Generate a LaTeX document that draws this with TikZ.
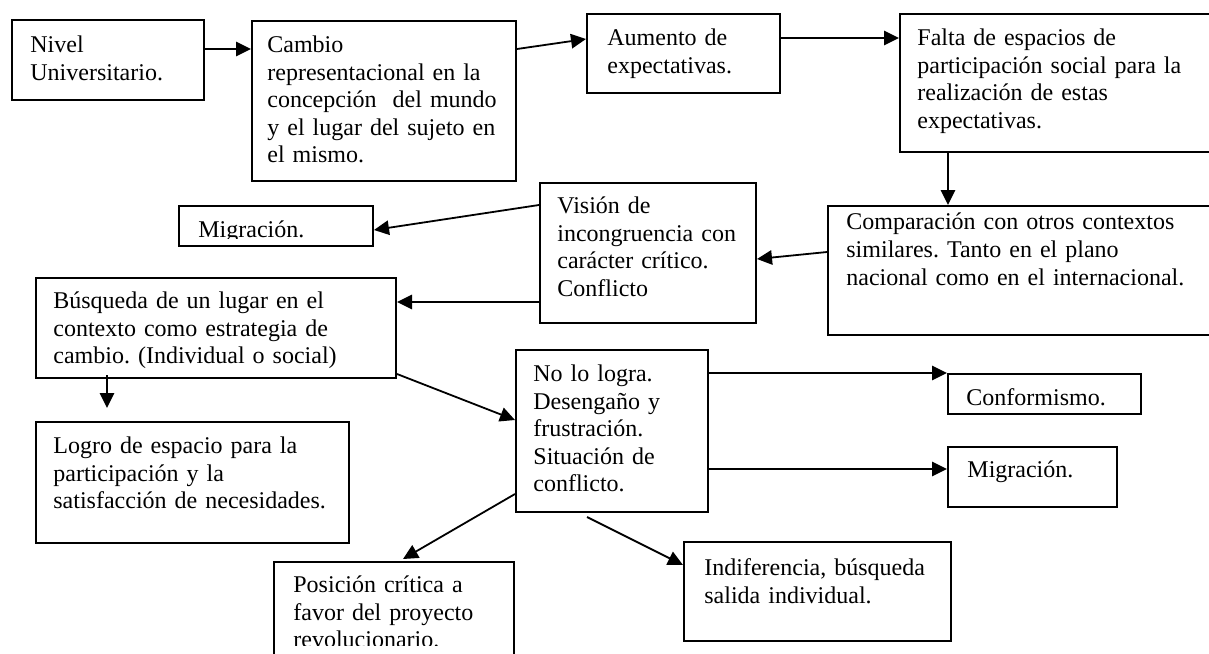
\documentclass[tikz,border=0pt]{standalone}
\usepackage{fontspec}
\setmainfont{Liberation Serif}
\usetikzlibrary{arrows.meta}
\frenchspacing
\tikzset{
  bx/.style={draw, line width=1pt, inner sep=0pt, anchor=north west},
  tx/.style={anchor=north west, inner sep=0pt, align=left, text width=250pt,
    font=\fontsize{12}{13.8}\selectfont\frenchspacing},
  arr/.style={-{Triangle[length=7.5pt,width=7.2pt]}, line width=0.9pt},
}
\begin{document}
\begin{tikzpicture}[x=0.5pt,y=-0.5pt]
\useasboundingbox (0,0) rectangle (1209,653);
\clip (0,0) rectangle (1209,653);
% boxes
\node[bx, minimum width=96pt,  minimum height=40pt]   (b1)  at (11,19)   {};
\node[bx, minimum width=132pt, minimum height=80pt]   (b2)  at (251,20)  {};
\node[bx, minimum width=96.5pt,minimum height=39.5pt] (b3)  at (586,13)  {};
\node[bx, minimum width=160pt, minimum height=69pt]   (b4)  at (899,13)  {};
\node[bx, minimum width=196pt, minimum height=64.5pt] (b5)  at (827,205) {};
\node[bx, minimum width=108pt, minimum height=70pt]   (b6)  at (539,182) {};
\node[bx, minimum width=97pt,  minimum height=20pt]   (b7)  at (178,205) {};
\node[bx, minimum width=180pt, minimum height=50pt]   (b8)  at (35,277)  {};
\node[bx, minimum width=156.5pt,minimum height=60.5pt](b9)  at (35,421)  {};
\node[bx, minimum width=120pt, minimum height=59.5pt] (b10) at (273,561) {};
\node[bx, minimum width=96pt,  minimum height=81pt]   (b11) at (515,349) {};
\node[bx, minimum width=133.5pt,minimum height=49.5pt](b12) at (683,541) {};
\node[bx, minimum width=96.5pt,minimum height=20pt]   (b13) at (947,373) {};
\node[bx, minimum width=84.5pt,minimum height=30pt]   (b14) at (947,446) {};
% texts
\node[tx] (t1) at ([shift={(19,13.7)}]b1.north west) {\strut Nivel\\Universitario.};
\node[tx] (t2) at ([shift={(16,12.7)}]b2.north west) {\strut Cambio\\representacional en la\\concepción\ \ del mundo\\y el lugar del sujeto en\\el mismo.};
\node[tx] (t3) at ([shift={(21,12.7)}]b3.north west) {\strut Aumento de\\expectativas.};
\node[tx] (t4) at ([shift={(18,12.7)}]b4.north west) {\strut Falta de espacios de\\participación social para la\\realización de estas\\expectativas.};
\node[tx] (t5) at ([shift={(19,5.2)}]b5.north west) {\strut Comparación con otros contextos\\similares. Tanto en el plano\\nacional como en el internacional.};
\node[tx] (t6) at ([shift={(18,11.7)}]b6.north west) {\strut Visión de\\incongruencia con\\carácter crítico.\\Conflicto};
\begin{scope}
\clip (178,205) rectangle (372,238.5);
\node[tx] (t7) at ([shift={(20,12.7)}]b7.north west) {\strut Migración.};
\end{scope}
\node[tx] (t8) at ([shift={(18,11.7)}]b8.north west) {\strut Búsqueda de un lugar en el\\contexto como estrategia de\\cambio. (Individual o social)};
\node[tx] (t9) at ([shift={(18,12.7)}]b9.north west) {\strut Logro de espacio para la\\participación y la\\satisfacción de necesidades.};
\begin{scope}
\clip (273,561) rectangle (513,645);
\node[tx] (t10) at ([shift={(20,11.7)}]b10.north west) {\strut Posición crítica a\\favor del proyecto\\revolucionario.};
\end{scope}
\node[tx] (t11) at ([shift={(18,12.7)}]b11.north west) {\strut No lo logra.\\Desengaño y\\frustración.\\Situación de\\conflicto.};
\node[tx] (t12) at ([shift={(21,14.7)}]b12.north west) {\strut Indiferencia, búsqueda\\salida individual.};
\node[tx] (t13) at ([shift={(19,12.7)}]b13.north west) {\strut Conformismo.};
\node[tx] (t14) at ([shift={(20,11.7)}]b14.north west) {\strut Migración.};
% free ends
\coordinate (c9) at (107,408);
\coordinate (c13) at (587,517);
% connectors
\draw[arr] ([shift={(0,30)}]b1.north east) -- ([shift={(0,29)}]b2.north west);
\draw[arr] ([shift={(0,29)}]b2.north east) -- ([shift={(0,26)}]b3.north west);
\draw[arr] ([shift={(0,25)}]b3.north east) -- ([shift={(0,25)}]b4.north west);
\draw[arr] ([shift={(49,0)}]b4.south west) -- ([shift={(121,0)}]b5.north west);
\draw[arr] ([shift={(0,47)}]b5.north west) -- ([shift={(0,77)}]b6.north east);
\draw[arr] ([shift={(0,23)}]b6.north west) -- ([shift={(0,25)}]b7.north east);
\draw[arr] ([shift={(0,120)}]b6.north west) -- ([shift={(0,25)}]b8.north east);
\draw[arr] ([shift={(0,97)}]b8.north east) -- ([shift={(0,71)}]b11.north west);
\draw[arr] ([shift={(72,-4)}]b8.south west) -- (c9);
\draw[arr] ([shift={(0,24)}]b11.north east) -- (b13.north west);
\draw[arr] ([shift={(0,120)}]b11.north east) -- ([shift={(0,23)}]b14.north west);
\draw[arr] ([shift={(0,145)}]b11.north west) -- ([shift={(130,-2)}]b10.north west);
\draw[arr] (c13) -- ([shift={(0,24)}]b12.north west);
\end{tikzpicture}
\end{document}
